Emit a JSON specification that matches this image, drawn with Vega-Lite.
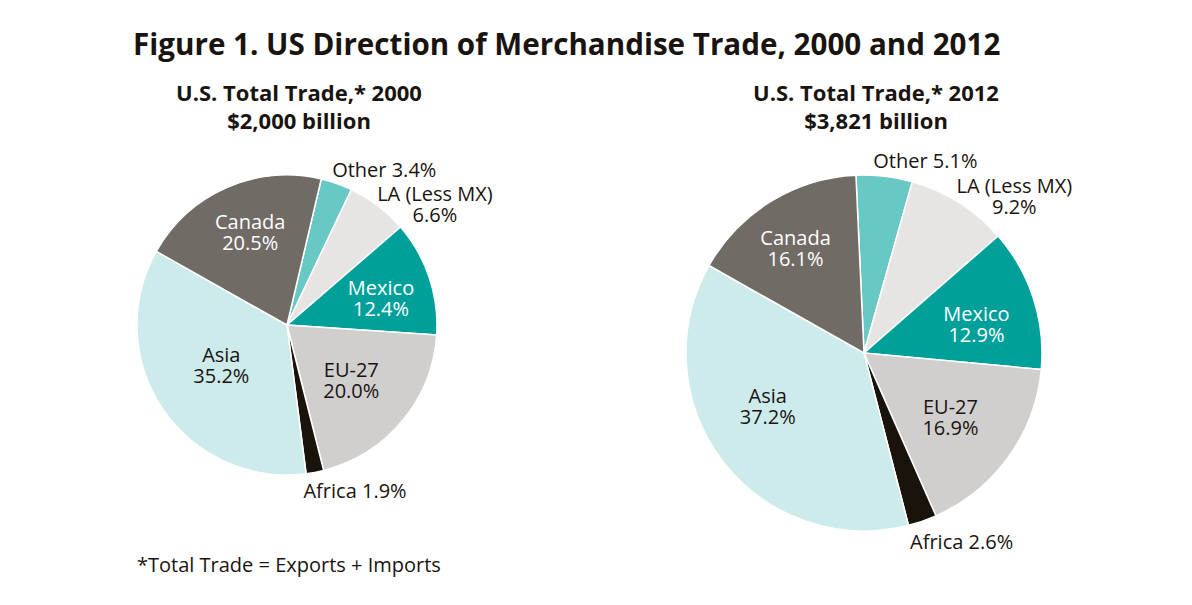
{
  "$schema": "https://vega.github.io/schema/vega-lite/v6.json",
  "background": "white",
  "padding": {"left": 133, "top": 31, "right": 5, "bottom": 5},
  "title": {"text": "Figure 1. US Direction of Merchandise Trade, 2000 and 2012", "anchor": "start", "fontSize": 29.6, "fontWeight": "bold", "font": "Open Sans", "color": "#1a1410", "offset": 21, "dx": -1},
  "datasets": {
    "y2000": [
      {"idx": 1, "region": "Other", "share": 3.4, "label": "Other 3.4%"},
      {"idx": 2, "region": "LA (Less MX)", "share": 6.6, "label": "LA (Less MX)\n6.6%"},
      {"idx": 3, "region": "Mexico", "share": 12.4, "label": "Mexico\n12.4%"},
      {"idx": 4, "region": "EU-27", "share": 20.0, "label": "EU-27\n20.0%"},
      {"idx": 5, "region": "Africa", "share": 1.9, "label": "Africa 1.9%"},
      {"idx": 6, "region": "Asia", "share": 35.2, "label": "Asia\n35.2%"},
      {"idx": 7, "region": "Canada", "share": 20.5, "label": "Canada\n20.5%"}
    ],
    "y2012": [
      {"idx": 1, "region": "Other", "share": 5.1, "label": "Other 5.1%"},
      {"idx": 2, "region": "LA (Less MX)", "share": 9.2, "label": "LA (Less MX)\n9.2%"},
      {"idx": 3, "region": "Mexico", "share": 12.9, "label": "Mexico\n12.9%"},
      {"idx": 4, "region": "EU-27", "share": 16.9, "label": "EU-27\n16.9%"},
      {"idx": 5, "region": "Africa", "share": 2.6, "label": "Africa 2.6%"},
      {"idx": 6, "region": "Asia", "share": 37.2, "label": "Asia\n37.2%"},
      {"idx": 7, "region": "Canada", "share": 16.1, "label": "Canada\n16.1%"}
    ]
  },
  "vconcat": [
    {
      "title": {"text": "*Total Trade = Exports + Imports", "orient": "bottom", "anchor": "start", "fontSize": 20, "fontWeight": "normal", "font": "Open Sans", "color": "#1a1410", "offset": 3, "dx": 3},
      "spacing": 249,
      "bounds": "flush",
      "hconcat": [
        {
          "width": 300,
          "height": 300,
          "data": {"name": "y2000"},
          "title": {"text": ["U.S. Total Trade,* 2000", "$2,000 billion"], "fontSize": 22, "fontWeight": "bold", "font": "Open Sans", "color": "#1a1410", "lineHeight": 28, "dx": 12, "offset": 17},
          "encoding": {
            "theta": {"field": "share", "type": "quantitative", "stack": true, "scale": {"range": [0.2304, 6.5136]}},
            "order": {"field": "idx", "type": "quantitative"}
          },
          "layer": [
            {
              "mark": {"type": "arc", "outerRadius": 150, "stroke": "white", "strokeWidth": 1.5},
              "encoding": {
                "color": {"field": "region", "type": "nominal", "legend": null,
                  "scale": {"domain": ["Other", "LA (Less MX)", "Mexico", "EU-27", "Africa", "Asia", "Canada"],
                            "range": ["#68c8c4", "#e6e5e4", "#00a09a", "#d1cfce", "#1a130b", "#cdebeb", "#716b66"]}}
              }
            },
            {"mark": {"type": "text", "radius": 99, "dx": 3, "dy": -11, "fill": "white", "font": "Open Sans", "fontSize": 20, "lineHeight": 21, "lineBreak": "\n"},
             "encoding": {"text": {"condition": {"test": "datum.region === 'Canada'", "field": "label"}, "value": ""}}},
            {"mark": {"type": "text", "radius": 97, "dx": 2, "dy": -5, "fill": "white", "font": "Open Sans", "fontSize": 20, "lineHeight": 21, "lineBreak": "\n"},
             "encoding": {"text": {"condition": {"test": "datum.region === 'Mexico'", "field": "label"}, "value": ""}}},
            {"mark": {"type": "text", "radius": 85, "dx": -1, "dy": -8, "fill": "#1a1410", "font": "Open Sans", "fontSize": 20, "lineHeight": 21, "lineBreak": "\n"},
             "encoding": {"text": {"condition": {"test": "datum.region === 'EU-27'", "field": "label"}, "value": ""}}},
            {"mark": {"type": "text", "radius": 78, "dx": -1, "dy": -13, "fill": "#1a1410", "font": "Open Sans", "fontSize": 20, "lineHeight": 21, "lineBreak": "\n"},
             "encoding": {"text": {"condition": {"test": "datum.region === 'Asia'", "field": "label"}, "value": ""}}},
            {"mark": {"type": "text", "radius": 170, "dx": 41, "dy": 6, "fill": "#1a1410", "font": "Open Sans", "fontSize": 20, "lineHeight": 21, "lineBreak": "\n"},
             "encoding": {"text": {"condition": {"test": "datum.region === 'Other'", "field": "label"}, "value": ""}}},
            {"mark": {"type": "text", "radius": 150, "dx": 57, "dy": -11, "fill": "#1a1410", "font": "Open Sans", "fontSize": 20, "lineHeight": 21, "lineBreak": "\n"},
             "encoding": {"text": {"condition": {"test": "datum.region === 'LA (Less MX)'", "field": "label"}, "value": ""}}},
            {"mark": {"type": "text", "radius": 172, "dx": 36, "dy": -2, "fill": "#1a1410", "font": "Open Sans", "fontSize": 20, "lineHeight": 21, "lineBreak": "\n"},
             "encoding": {"text": {"condition": {"test": "datum.region === 'Africa'", "field": "label"}, "value": ""}}}
          ]
        },
        {
          "width": 356,
          "height": 356,
          "data": {"name": "y2012"},
          "title": {"text": ["U.S. Total Trade,* 2012", "$3,821 billion"], "fontSize": 22, "fontWeight": "bold", "font": "Open Sans", "color": "#1a1410", "lineHeight": 28, "dx": 12, "offset": 11},
          "encoding": {
            "theta": {"field": "share", "type": "quantitative", "stack": true, "scale": {"range": [-0.0454, 6.2378]}},
            "order": {"field": "idx", "type": "quantitative"}
          },
          "layer": [
            {
              "mark": {"type": "arc", "outerRadius": 178, "stroke": "white", "strokeWidth": 1.5},
              "encoding": {
                "color": {"field": "region", "type": "nominal", "legend": null,
                  "scale": {"domain": ["Other", "LA (Less MX)", "Mexico", "EU-27", "Africa", "Asia", "Canada"],
                            "range": ["#68c8c4", "#e6e5e4", "#00a09a", "#d1cfce", "#1a130b", "#cdebeb", "#716b66"]}}
              }
            },
            {"mark": {"type": "text", "radius": 125, "dx": -3, "dy": -8, "fill": "white", "font": "Open Sans", "fontSize": 20, "lineHeight": 21, "lineBreak": "\n"},
             "encoding": {"text": {"condition": {"test": "datum.region === 'Canada'", "field": "label"}, "value": ""}}},
            {"mark": {"type": "text", "radius": 115, "dx": 3, "dy": -3, "fill": "white", "font": "Open Sans", "fontSize": 20, "lineHeight": 21, "lineBreak": "\n"},
             "encoding": {"text": {"condition": {"test": "datum.region === 'Mexico'", "field": "label"}, "value": ""}}},
            {"mark": {"type": "text", "radius": 109, "dx": -2, "dy": -9, "fill": "#1a1410", "font": "Open Sans", "fontSize": 20, "lineHeight": 21, "lineBreak": "\n"},
             "encoding": {"text": {"condition": {"test": "datum.region === 'EU-27'", "field": "label"}, "value": ""}}},
            {"mark": {"type": "text", "radius": 110, "dx": -9, "dy": -23, "fill": "#1a1410", "font": "Open Sans", "fontSize": 20, "lineHeight": 21, "lineBreak": "\n"},
             "encoding": {"text": {"condition": {"test": "datum.region === 'Asia'", "field": "label"}, "value": ""}}},
            {"mark": {"type": "text", "radius": 195, "dx": 39, "dy": 3, "fill": "#1a1410", "font": "Open Sans", "fontSize": 20, "lineHeight": 21, "lineBreak": "\n"},
             "encoding": {"text": {"condition": {"test": "datum.region === 'Other'", "field": "label"}, "value": ""}}},
            {"mark": {"type": "text", "radius": 182, "dx": 53, "dy": -12, "fill": "#1a1410", "font": "Open Sans", "fontSize": 20, "lineHeight": 21, "lineBreak": "\n"},
             "encoding": {"text": {"condition": {"test": "datum.region === 'LA (Less MX)'", "field": "label"}, "value": ""}}},
            {"mark": {"type": "text", "radius": 200, "dx": 32, "dy": 1, "fill": "#1a1410", "font": "Open Sans", "fontSize": 20, "lineHeight": 21, "lineBreak": "\n"},
             "encoding": {"text": {"condition": {"test": "datum.region === 'Africa'", "field": "label"}, "value": ""}}}
          ]
        }
      ]
    }
  ],
  "config": {"view": {"stroke": null}, "font": "Open Sans"}
}
